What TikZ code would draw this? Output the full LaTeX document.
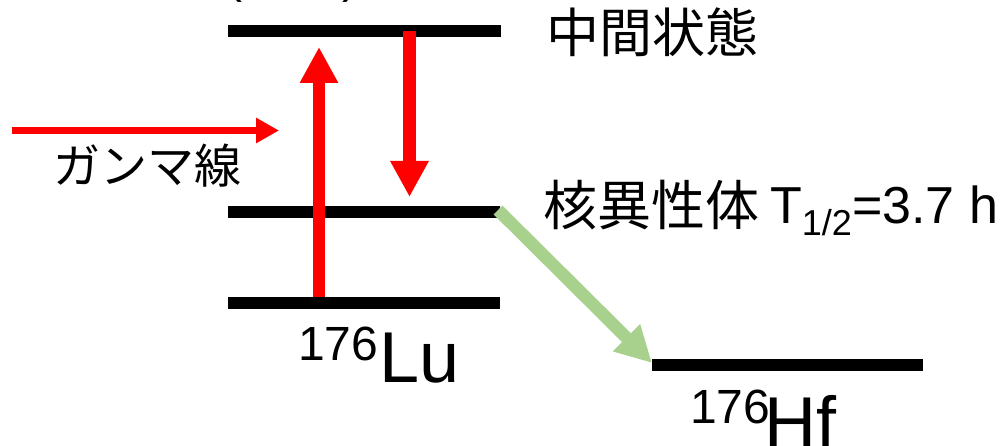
\documentclass[tikz,border=0pt]{standalone}
\usepackage{fontspec}
\setmainfont{Liberation Sans}
\newfontfamily\jp{Noto Sans CJK JP}
\usetikzlibrary{arrows.meta}
\definecolor{lgreen}{HTML}{A9D18E}
\tikzset{
  level/.style={line width=12pt, black},
  redarrow/.style={line width=12.5pt, red, -{Triangle[width=36pt,length=36pt]}},
  gammaarrow/.style={line width=7pt, red, -{Triangle[width=24pt,length=23pt]}},
  greenarrow/.style={line width=12.5pt, lgreen, -{Triangle[width=36pt,length=36pt]}},
  lbl/.style={inner sep=0pt, anchor=base west},
  jptext/.style={lbl, font=\jp\fontsize{53}{53}\selectfont},
  latin/.style={lbl, font=\fontsize{48}{48}\selectfont},
  big/.style={lbl, font=\fontsize{72}{72}\selectfont},
}
\begin{document}
\begin{tikzpicture}[x=1pt,y=-1pt]
\useasboundingbox (0,0) rectangle (1004,446);
% level coordinates
\coordinate (topL) at (228,31);   \coordinate (topR) at (501,31);
\coordinate (midL) at (228,212.5); \coordinate (midR) at (500,212.5);
\coordinate (botL) at (228,303);  \coordinate (botR) at (500,303);
\coordinate (hfL) at (652,364.5); \coordinate (hfR) at (923,364.5);
% levels
\draw[level] (topL) -- (topR);
\draw[level] (midL) -- (midR);
\draw[level] (botL) -- (botR);
\draw[level] (hfL) -- (hfR);
% arrows
\coordinate (upS) at (319,297);  \coordinate (upE) at (319,47);
\coordinate (dnS) at (409.5,31); \coordinate (dnE) at (409.5,197);
\coordinate (gS) at (12,130.5);  \coordinate (gE) at (279,130.5);
\coordinate (grS) at (498,210);  \coordinate (grE) at (652,363);
\draw[redarrow] (upS) -- (upE);
\draw[redarrow] (dnS) -- (dnE);
\draw[gammaarrow] (gS) -- (gE);
\draw[greenarrow] (grS) -- (grE);
% texts
\node[latin] (lpar) at (226,-7) {(};
\node[latin] (rpar) at (342,-7) {)};
\node[jptext] (inter) at (546,53) {中間状態};
\node[jptext, font=\jp\fontsize{47}{47}\selectfont] (gamma) at (53,184) {ガンマ線};
\node[jptext, font=\jp\fontsize{54}{54}\selectfont] (iso) at (543,226) {核異性体};
\node[latin, font=\fontsize{52}{52}\selectfont] (half) at (770,224) {T\raisebox{-12pt}{\fontsize{36}{36}\selectfont 1/2}=3.7 h};
\node[latin] (lumass) at (298,360) {176};
\node[big] (lu) at (379,382) {Lu};
\node[latin] (hfmass) at (690,423) {176};
\node[big] (hf) at (764,447) {Hf};
\end{tikzpicture}
\end{document}
